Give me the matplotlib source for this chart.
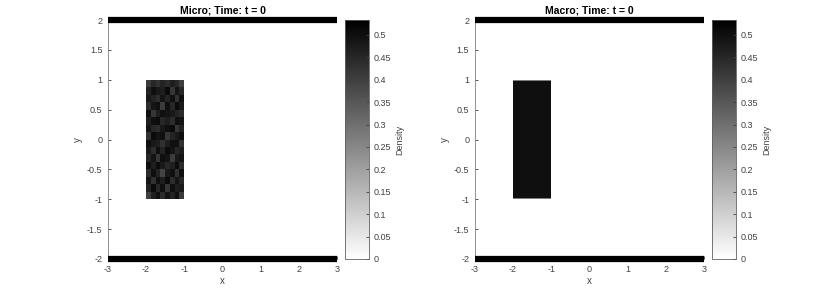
import numpy as np
import matplotlib
matplotlib.use("Agg")
from matplotlib import pyplot as plt

plt.rcParams['font.family'] = ['Liberation Sans', 'DejaVu Sans']
plt.rcParams['axes.unicode_minus'] = False

titles = ["Micro; Time: t = 0", "Macro; Time: t = 0"]
x_ticks = [-3, -2, -1, 0, 1, 2, 3]
y_ticks = [-2, -1.5, -1, -0.5, 0, 0.5, 1, 1.5, 2]
cbar_ticks = [0, 0.05, 0.1, 0.15, 0.2, 0.25, 0.3, 0.35, 0.4, 0.45, 0.5]
cbar_max = 0.533
walls_y = [-2, 2]

# micro density block, x in [-2, -1], y in [-1, 1] (8 x 16 cells)
micro_x_edges = [-2.0, -1.875, -1.75, -1.625, -1.5, -1.375, -1.25, -1.125, -1.0]
micro_y_edges = [-1.0, -0.875, -0.75, -0.625, -0.5, -0.375, -0.25, -0.125, 0.0,
                 0.125, 0.25, 0.375, 0.5, 0.625, 0.75, 0.875, 1.0]
micro_density = [
    [0.40, 0.47, 0.50, 0.44, 0.49, 0.46, 0.50, 0.41],
    [0.46, 0.51, 0.45, 0.50, 0.42, 0.50, 0.47, 0.48],
    [0.49, 0.43, 0.50, 0.47, 0.51, 0.44, 0.49, 0.45],
    [0.44, 0.50, 0.46, 0.39, 0.48, 0.50, 0.43, 0.50],
    [0.50, 0.47, 0.51, 0.48, 0.45, 0.47, 0.51, 0.44],
    [0.45, 0.49, 0.42, 0.50, 0.49, 0.41, 0.48, 0.49],
    [0.48, 0.44, 0.50, 0.46, 0.51, 0.49, 0.45, 0.47],
    [0.50, 0.48, 0.47, 0.43, 0.47, 0.50, 0.50, 0.43],
    [0.43, 0.51, 0.49, 0.50, 0.42, 0.46, 0.48, 0.50],
    [0.49, 0.45, 0.44, 0.48, 0.50, 0.51, 0.42, 0.46],
    [0.47, 0.50, 0.51, 0.45, 0.47, 0.44, 0.50, 0.49],
    [0.50, 0.42, 0.47, 0.50, 0.49, 0.48, 0.46, 0.44],
    [0.44, 0.49, 0.50, 0.41, 0.50, 0.45, 0.51, 0.48],
    [0.48, 0.46, 0.44, 0.49, 0.46, 0.50, 0.43, 0.50],
    [0.46, 0.50, 0.48, 0.47, 0.51, 0.42, 0.49, 0.45],
    [0.41, 0.45, 0.43, 0.46, 0.44, 0.47, 0.45, 0.40],
]

# macro density block, same footprint with soft top/bottom edge
macro_x_edges = [-2.0, -1.0]
macro_y_edges = [-1.0, -0.975, 0.975, 1.0]
macro_density = [[0.27], [0.50], [0.27]]

fig = plt.figure(figsize=(8.3, 2.91), dpi=100)
ax_pos = [[0.130, 0.110, 0.276, 0.821], [0.572, 0.110, 0.276, 0.821]]
cb_pos = [[0.4157, 0.110, 0.029, 0.821], [0.858, 0.110, 0.029, 0.821]]
blocks = [(micro_x_edges, micro_y_edges, micro_density),
          (macro_x_edges, macro_y_edges, macro_density)]

txt = '#404040'
for i in range(2):
    ax = fig.add_axes(ax_pos[i])
    xe, ye, d = blocks[i]
    mesh = ax.pcolormesh(xe, ye, np.array(d), cmap='gray_r', vmin=0, vmax=cbar_max,
                         shading='flat')
    for wy in walls_y:
        ax.plot([-3, 3], [wy, wy], color='black', linewidth=4.5, solid_capstyle='butt',
                clip_on=False, zorder=5)
    ax.set_xlim(-3, 3)
    ax.set_ylim(-2, 2)
    ax.set_xticks(x_ticks)
    ax.set_yticks(y_ticks)
    ax.set_yticklabels([f'{v:g}' for v in y_ticks])
    for s in ['top', 'right']:
        ax.spines[s].set_visible(False)
    for s in ['left', 'bottom']:
        ax.spines[s].set_color('#808080')
        ax.spines[s].set_linewidth(0.6)
    ax.tick_params(direction='in', length=2.5, width=0.6, labelsize=6.5, colors=txt, pad=4)
    ax.set_xlabel('x', fontsize=7, color=txt, labelpad=2)
    ax.set_ylabel('y', fontsize=7, color=txt, labelpad=3)
    ax.set_title(titles[i], fontsize=7.5, fontweight='bold', color='black', pad=5)

    cax = fig.add_axes(cb_pos[i])
    cb = fig.colorbar(mesh, cax=cax)
    cb.set_ticks(cbar_ticks)
    cb.set_ticklabels([f'{v:g}' for v in cbar_ticks])
    cb.outline.set_linewidth(0.6)
    cb.outline.set_edgecolor('#606060')
    cax.tick_params(direction='in', length=2.5, width=0.6, labelsize=6.5, colors=txt, pad=3)
    cb.set_label('Density', fontsize=6.5, color=txt, labelpad=3)

fig.savefig('out.png', dpi=100)
